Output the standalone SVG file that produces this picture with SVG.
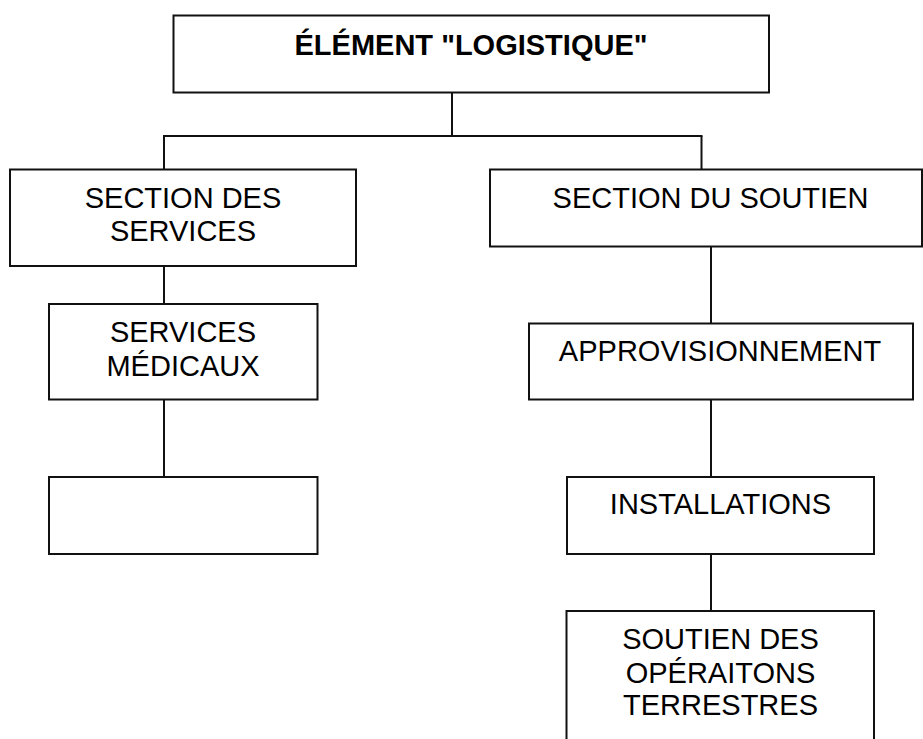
<svg xmlns="http://www.w3.org/2000/svg" width="923" height="739" viewBox="0 0 923 739">
<style>
.box{fill:#fff;stroke:#111;stroke-width:2}
.ln{fill:none;stroke:#111;stroke-width:2}
text{font-family:"Liberation Sans",Arial,sans-serif;font-size:29px;fill:#000;text-anchor:middle}
.b{font-weight:bold}
</style>
<rect width="923" height="739" fill="#fff"/>
<g id="connectors">
<line class="ln" x1="452" y1="92.5" x2="452" y2="136"/>
<line class="ln" x1="163" y1="136" x2="702.5" y2="136"/>
<line class="ln" x1="164" y1="136" x2="164" y2="169.5"/>
<line class="ln" x1="701.5" y1="136" x2="701.5" y2="169.5"/>
<line class="ln" x1="164" y1="266" x2="164" y2="304"/>
<line class="ln" x1="164" y1="399.5" x2="164" y2="477"/>
<line class="ln" x1="711" y1="246.5" x2="711" y2="323.5"/>
<line class="ln" x1="711" y1="399.5" x2="711" y2="477"/>
<line class="ln" x1="711" y1="554" x2="711" y2="611"/>
</g>
<g id="n-logistique">
<rect class="box" x="173.5" y="15.5" width="595.5" height="77"/>
<text class="b" x="471" y="54.5">ÉLÉMENT "LOGISTIQUE"</text>
</g>
<g id="n-section-services">
<rect class="box" x="10" y="169.5" width="346" height="96.5"/>
<text x="183" y="207.5">SECTION DES</text>
<text x="183" y="241">SERVICES</text>
</g>
<g id="n-services-medicaux">
<rect class="box" x="49" y="304" width="268.5" height="95.5"/>
<text x="183" y="341.5">SERVICES</text>
<text x="183" y="375.5">MÉDICAUX</text>
</g>
<g id="n-empty">
<rect class="box" x="49" y="477" width="268.5" height="77"/>
</g>
<g id="n-section-soutien">
<rect class="box" x="490" y="169.5" width="432" height="77"/>
<text x="710.5" y="208">SECTION DU SOUTIEN</text>
</g>
<g id="n-approvisionnement">
<rect class="box" x="529" y="323.5" width="384" height="76"/>
<text x="720" y="360.5">APPROVISIONNEMENT</text>
</g>
<g id="n-installations">
<rect class="box" x="567" y="477" width="307" height="77"/>
<text x="720.5" y="514">INSTALLATIONS</text>
</g>
<g id="n-soutien-operations">
<rect class="box" x="566.5" y="611" width="307.5" height="140"/>
<text x="720.5" y="649">SOUTIEN DES</text>
<text x="720.5" y="682.5">OPÉRAITONS</text>
<text x="720.5" y="715">TERRESTRES</text>
</g>
</svg>
